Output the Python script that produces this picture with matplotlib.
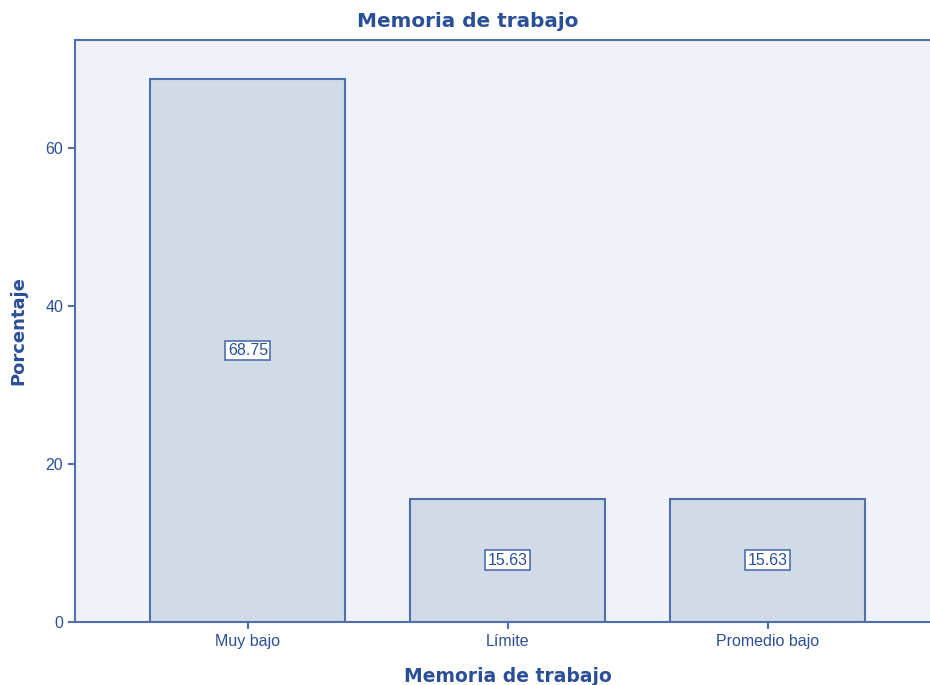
import matplotlib.pyplot as plt
import numpy as np

# Datos del grafico
categorias = ["Muy bajo", "Límite", "Promedio bajo"]
porcentajes = [68.75, 15.63, 15.63]
etiquetas = ["68.75", "15.63", "15.63"]

azul = "#2b4f97"
borde = "#4f6fae"

plt.rcParams['font.family'] = ['Liberation Sans', 'DejaVu Sans']

fig = plt.figure(figsize=(9.3, 6.85), dpi=100)
ax = fig.add_axes([0.0806, 0.092, 0.931, 0.8496])
ax.set_facecolor("#eff3f9")

x = np.arange(len(categorias))
ax.bar(x, porcentajes, width=0.75, color="#d1dbe8", edgecolor=borde, linewidth=1.5, zorder=2)

# Etiquetas de valor en el centro de cada barra
for i in range(len(categorias)):
    ax.text(x[i], porcentajes[i] / 2, etiquetas[i], ha='center', va='center',
            fontsize=11.5, color=azul, zorder=3,
            bbox=dict(boxstyle='square,pad=0.15', facecolor='white', edgecolor=borde, linewidth=1.2))

ax.set_xlim(-0.665, 2.665)
ax.set_ylim(0, 73.7)
ax.set_xticks(x)
ax.set_xticklabels(categorias)
ax.set_yticks([0, 20, 40, 60])

for s in ["left", "bottom", "top"]:
    ax.spines[s].set_color(borde)
    ax.spines[s].set_linewidth(1.5)
ax.spines["right"].set_visible(False)

ax.tick_params(axis='both', colors=borde, labelcolor=azul, labelsize=11.5, width=1.5, length=5)

# Titulo centrado en la figura (no en los ejes)
fig.suptitle("Memoria de trabajo", x=0.503, y=0.969, va='center', fontsize=14.4,
             fontweight='bold', color=azul, family='DejaVu Sans')
ax.set_xlabel("Memoria de trabajo", fontsize=13.5, fontweight='bold', color=azul, labelpad=13,
              family='DejaVu Sans')
ax.set_ylabel("Porcentaje", fontsize=13, fontweight='bold', color=azul, labelpad=13,
              family='DejaVu Sans')

fig.savefig("out.png", dpi=100)
